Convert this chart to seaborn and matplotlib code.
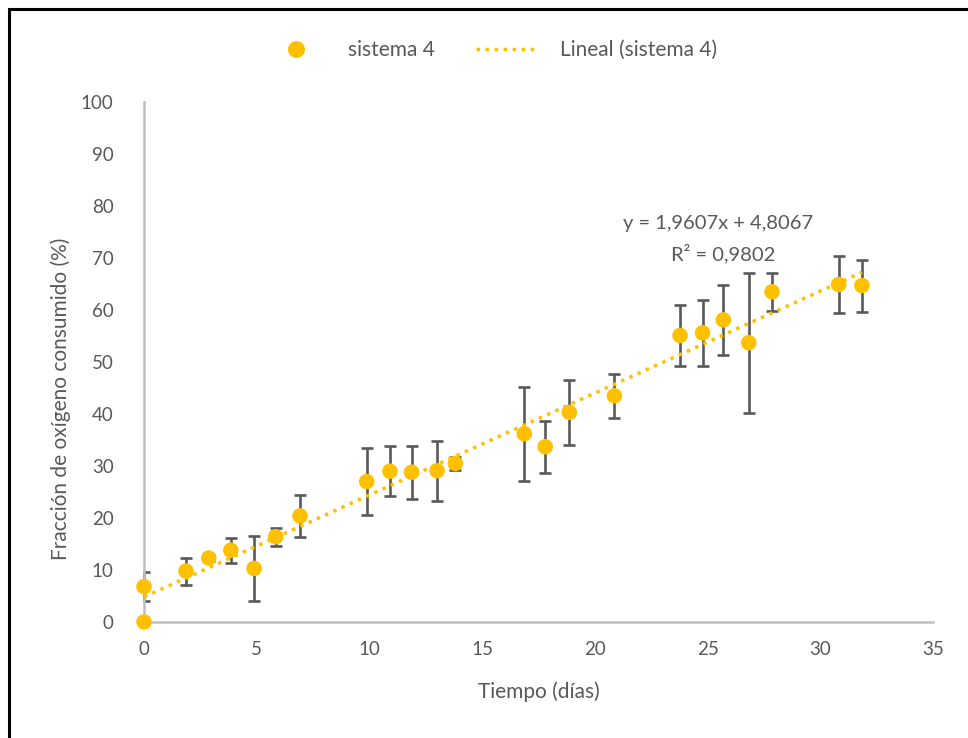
import matplotlib
matplotlib.use("Agg")
import matplotlib.pyplot as plt
import seaborn as sns
import numpy as np
import pandas as pd
from matplotlib.patches import Rectangle
from matplotlib.lines import Line2D

# ---- data ----
dias = [0, 0, 1.86, 2.87, 3.85, 4.88, 5.84, 6.92, 9.88, 10.91, 11.87, 13.0, 13.81,
        16.87, 17.8, 18.87, 20.87, 23.78, 24.78, 25.7, 26.83, 27.86, 30.82, 31.85]
fraccion = [0.0, 6.8, 9.8, 12.3, 13.8, 10.3, 16.4, 20.4, 27.0, 29.0, 28.8, 29.1, 30.5,
            36.2, 33.7, 40.3, 43.5, 55.1, 55.6, 58.1, 53.7, 63.5, 64.9, 64.7]
error = [0.0, 2.8, 2.6, 0.5, 2.4, 6.2, 1.7, 4.0, 6.4, 4.8, 5.1, 5.8, 1.3,
         9.0, 5.0, 6.2, 4.2, 5.8, 6.3, 6.7, 13.5, 3.6, 5.4, 5.0]
pendiente = 1.9607
intercepto = 4.8067
r2 = 0.9802
x_ticks = [0, 5, 10, 15, 20, 25, 30, 35]
y_ticks = [0, 10, 20, 30, 40, 50, 60, 70, 80, 90, 100]

df = pd.DataFrame({"dias": dias, "fraccion": fraccion, "error": error})

sns.set_theme(style="white")
plt.rcParams["font.family"] = ["Lato", "DejaVu Sans"]

gold = "#FFC000"
gray_txt = "#595959"
fig = plt.figure(figsize=(9.68, 7.38), dpi=100)
ax = fig.add_axes([0.1488, 0.1572, 0.815, 0.7046])

ax.errorbar(df["dias"], df["fraccion"], yerr=df["error"], fmt="none",
            ecolor="#595959", elinewidth=1.9, capsize=4.6, capthick=1.9, zorder=2)
xfit = np.array([0, max(dias)])
ax.plot(xfit, pendiente * xfit + intercepto, linestyle=(0, (1, 1.6)), color=gold,
        linewidth=2.5, zorder=3, label="Lineal (sistema 4)")
sns.scatterplot(data=df, x="dias", y="fraccion", ax=ax, color=gold, s=125,
                edgecolor="none", zorder=4, label="sistema 4", legend=False)

ax.set_xlim(0, 35)
ax.set_ylim(0, 100)
ax.set_xticks(x_ticks)
ax.set_yticks(y_ticks)
ax.tick_params(axis="both", labelsize=13.5, colors=gray_txt, length=0)
ax.tick_params(axis="y", pad=22)
ax.tick_params(axis="x", pad=14)
for s in ["top", "right"]:
    ax.spines[s].set_visible(False)
for s in ["left", "bottom"]:
    ax.spines[s].set_color("#BFBFBF")
    ax.spines[s].set_linewidth(1.8)
ax.set_xlabel("Tiempo (días)", fontsize=15, color=gray_txt)
ax.set_ylabel("Fracción de oxígeno consumido (%)", fontsize=15, color=gray_txt)
ax.xaxis.set_label_coords(0.5, -0.114)
ax.yaxis.set_label_coords(-0.092, 0.429)
for c in ax.collections:
    c.set_clip_on(False)

ax.text(0.7417, 0.6965, f"y = {str(pendiente).replace('.', ',')}x + {str(intercepto).replace('.', ',')}",
        transform=fig.transFigure, ha="center", va="center", fontsize=14.5, color=gray_txt)
ax.text(0.7475, 0.657, f"R² = {str(r2).replace('.', ',')}",
        transform=fig.transFigure, ha="center", va="center", fontsize=14.5, color=gray_txt)

h_pt = Line2D([], [], marker="o", linestyle="none", color=gold, markersize=11.2)
h_ln = Line2D([], [], linestyle=(0, (1, 1.6)), color=gold, linewidth=2.5)
leg = fig.legend([h_pt, h_ln], ["sistema 4", "Lineal (sistema 4)"], loc="center",
                 bbox_to_anchor=(0.507, 0.932), ncol=2, frameon=False, fontsize=15,
                 handlelength=3.0, columnspacing=2.0, handletextpad=1.0)
for t in leg.get_texts():
    t.set_color(gray_txt)

fig.patches.append(Rectangle((0.0088, -0.02), 1.2, 1.0078, transform=fig.transFigure,
                             fill=False, edgecolor="black", linewidth=2.2))

fig.savefig("out.png", dpi=100)
